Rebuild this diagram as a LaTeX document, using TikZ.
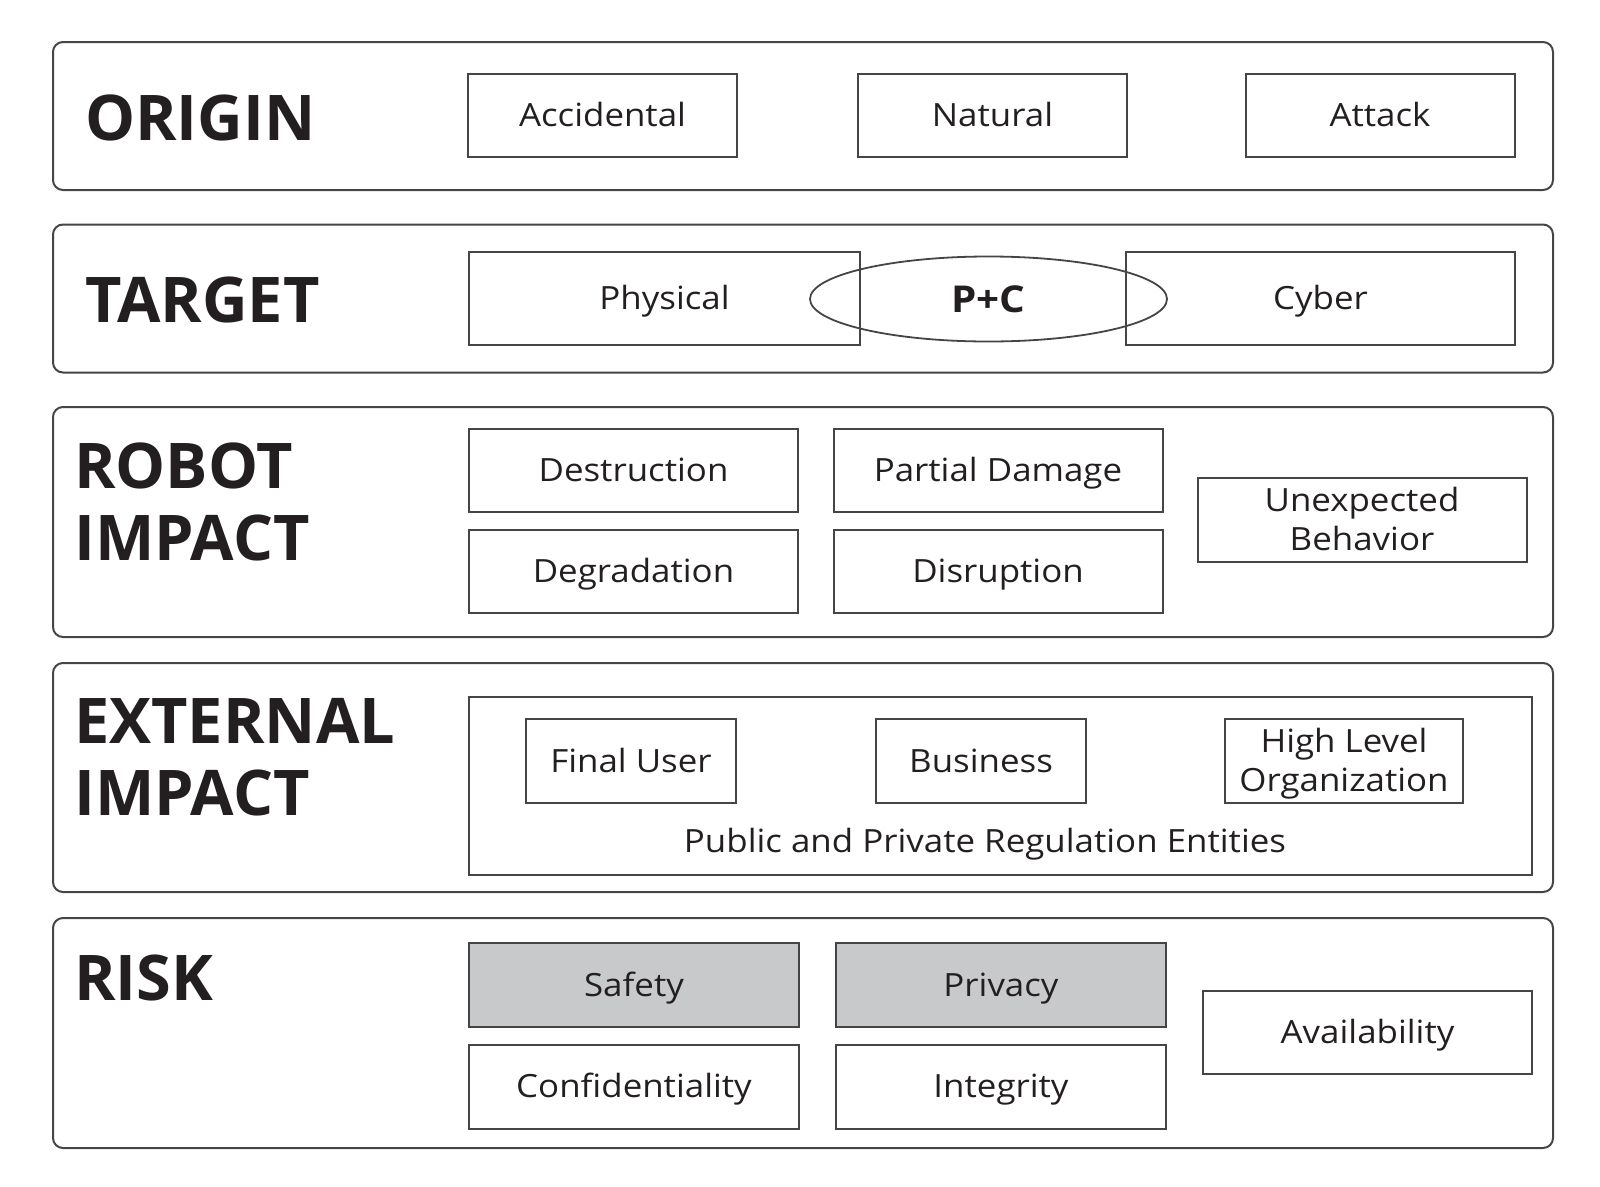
\documentclass[tikz,border=0pt]{standalone}
\usepackage{fontspec}
\setmainfont{Open Sans}
\newfontfamily\itemfont[FakeStretch=1.09]{Open Sans}
\usetikzlibrary{shapes.geometric}
\definecolor{edge}{HTML}{454545}
\definecolor{ink}{HTML}{231F20}
\definecolor{shade}{HTML}{C8C9CB}
\begin{document}
\begin{tikzpicture}[x=1pt,y=-1pt,
  band/.style={draw=edge, line width=2pt, rounded corners=10pt, inner sep=0pt, minimum width=1500},
  item/.style={draw=edge, line width=2pt, inner sep=0pt, align=center, text=ink,
    text height=22pt, text depth=0pt,
    font=\itemfont\fontsize{32}{39}\selectfont},
  twoline/.style={text height=61pt, text depth=0pt},
  shaded/.style={fill=shade},
  head/.style={anchor=base west, inner sep=0pt, text=ink, align=left,
    font=\fontsize{63}{72}\selectfont\bfseries}]
\useasboundingbox (0,0) rectangle (1600,1186);
% bands
\node[band, minimum height=148] (b1) at (803,116) {};
\node[band, minimum height=148] (b2) at (803,298.5) {};
\node[band, minimum height=230] (b3) at (803,522) {};
\node[band, minimum height=229] (b4) at (803,777.5) {};
\node[band, minimum height=230] (b5) at (803,1033) {};
% headings
\node[head] (hOrigin) at (85,140) {ORIGIN};
\node[head] (hTarget) at (85,322) {TARGET};
\node[head] (hRobot) at (74,488) {ROBOT};
\node[head] (hRobot2) at (74,560) {IMPACT};
\node[head] (hExt) at (74,743) {EXTERNAL};
\node[head] (hExt2) at (74,815) {IMPACT};
\node[head] (hRisk) at (74,1000) {RISK};
% origin
\node[item, minimum width=269, minimum height=83] (acc) at (602.5,115.5) {Accidental};
\node[item, minimum width=269, minimum height=83] (nat) at (992.5,115.5) {Natural};
\node[item, minimum width=269, minimum height=83] (att) at (1380,115.5) {Attack};
% target
\node[item, minimum width=391, minimum height=93] (phys) at (664.5,298.5) {Physical};
\node[item, minimum width=389, minimum height=93] (cyb) at (1320.5,298.5) {Cyber};
\node[draw=edge, line width=1.8pt, ellipse, inner sep=0pt, minimum width=357, minimum height=85,
  text height=26pt, text depth=0pt,
  text=ink, font=\itemfont\fontsize{37}{40}\selectfont\bfseries] (pc) at (988.5,299) {P+C};
% robot impact
\node[item, minimum width=329, minimum height=83] (destr) at (633.5,470) {Destruction};
\node[item, minimum width=329, minimum height=83] (partial) at (998,470) {Partial Damage};
\node[item, minimum width=329, minimum height=83] (degr) at (633.5,571) {Degradation};
\node[item, minimum width=329, minimum height=83] (disr) at (998,571) {Disruption};
\node[item, twoline, minimum width=329, minimum height=84] (unexp) at (1362,520) {Unexpected\\Behavior};
% external impact
\node[item, minimum width=1063, minimum height=178] (reg) at (1000.5,786) {};
\node[anchor=base, inner sep=0pt, text=ink, font=\itemfont\fontsize{32}{39}\selectfont] (regl) at (985,852) {Public and Private Regulation Entities};
\node[item, minimum width=210, minimum height=84] (fuser) at (631,761) {Final User};
\node[item, minimum width=210, minimum height=84] (bus) at (981,761) {Business};
\node[item, twoline, minimum width=238, minimum height=84] (hlo) at (1344,761) {High Level\\Organization};
% risk
\node[item, shaded, minimum width=330, minimum height=84] (safety) at (634,985) {Safety};
\node[item, shaded, minimum width=330, minimum height=84] (privacy) at (1001,985) {Privacy};
\node[item, minimum width=330, minimum height=84] (conf) at (634,1086.5) {Confidentiality};
\node[item, minimum width=330, minimum height=84] (integ) at (1001,1086.5) {Integrity};
\node[item, minimum width=329, minimum height=83] (avail) at (1367.5,1032.5) {Availability};
\end{tikzpicture}
\end{document}
